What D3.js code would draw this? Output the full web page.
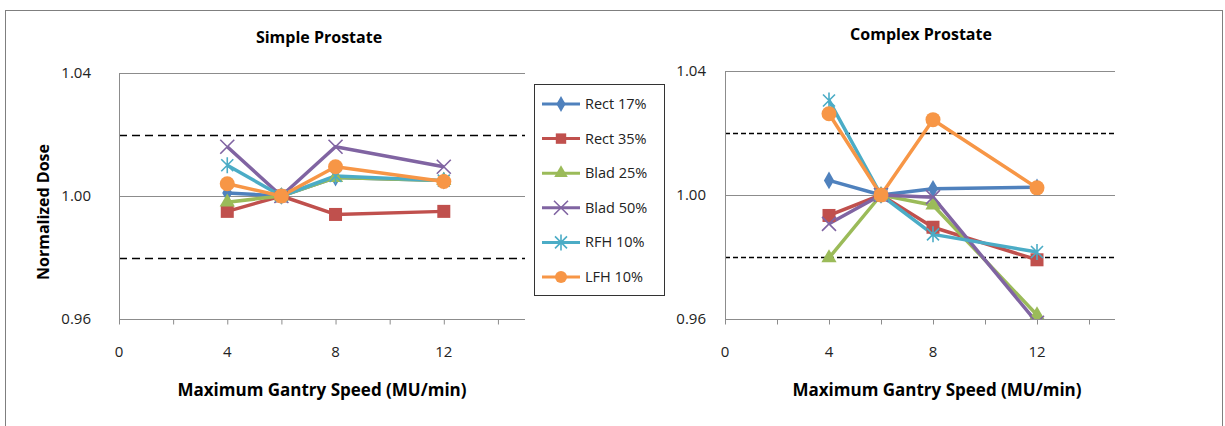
<!DOCTYPE html>
<html>
<head>
<meta charset="utf-8">
<script src="https://cdn.jsdelivr.net/npm/d3@7"></script>
<style>
  body { margin: 0; background: #fff; }
  svg { display: block; font-family: 'Open Sans', Lato, sans-serif; }
</style>
</head>
<body>
<svg id="chart"></svg>
<script>
var speeds = [4, 6, 8, 12];
var seriesNames = ['Rect 17%', 'Rect 35%', 'Blad 25%', 'Blad 50%', 'RFH 10%', 'LFH 10%'];
var colors = ['#4F81BD', '#C0504D', '#9BBB59', '#8064A2', '#4BACC6', '#F79646'];
var markers = ['diamond', 'square', 'triangle', 'cross', 'star', 'circle'];

// simple prostate
var simpleRect17 = [1.001, 1.000, 1.006, 1.005];
var simpleRect35 = [0.995, 1.000, 0.994, 0.995];
var simpleBlad25 = [0.998, 1.000, 1.006, 1.005];
var simpleBlad50 = [1.016, 1.000, 1.016, 1.0095];
var simpleRFH10 = [1.010, 1.000, 1.0065, 1.005];
var simpleLFH10 = [1.004, 1.000, 1.0095, 1.0047];

// complex prostate
var complexRect17 = [1.0047, 1.000, 1.002, 1.0025];
var complexRect35 = [0.9934, 1.000, 0.9896, 0.9791];
var complexBlad25 = [0.9797, 1.000, 0.9967, 0.9613];
var complexBlad50 = [0.9907, 1.000, 0.9993, 0.9588];
var complexRFH10 = [1.0305, 1.000, 0.9873, 0.9816];
var complexLFH10 = [1.0262, 1.000, 1.0243, 1.0023];

var yTicks = [0.96, 1.00, 1.04];
var xTicks = [0, 4, 8, 12];
var limitLines = [0.98, 1.02];

var svgWidth = 1225, svgHeight = 426;
var svg = d3.select('#chart').attr('width', svgWidth).attr('height', svgHeight);

svg.append('rect')
  .attr('x', 5.5).attr('y', 10.5)
  .attr('width', 1217).attr('height', 430)
  .attr('fill', 'none').attr('stroke', '#7f7f7f').attr('stroke-width', 1);

function drawPanel(opts) {
  var xScale = d3.scaleLinear().domain([0, 15]).range([opts.left, opts.right]);
  var yScale = d3.scaleLinear().domain([0.96, 1.04]).range([opts.bottom, opts.top]);
  var g = svg.append('g');

  // gridlines
  g.selectAll('.grid')
    .data([1.00, 1.04])
    .enter().append('line')
    .attr('x1', opts.left).attr('x2', opts.right)
    .attr('y1', (d) => Math.round(yScale(d)) + 0.5)
    .attr('y2', (d) => Math.round(yScale(d)) + 0.5)
    .attr('stroke', '#8c8c8c').attr('stroke-width', 1);

  // limit lines
  g.selectAll('.limit')
    .data(limitLines)
    .enter().append('line')
    .attr('x1', opts.left).attr('x2', opts.right)
    .attr('y1', (d) => Math.round(yScale(d)) + 0.5)
    .attr('y2', (d) => Math.round(yScale(d)) + 0.5)
    .attr('stroke', '#000').attr('stroke-width', 1.5)
    .attr('stroke-dasharray', opts.dash);

  // axes
  var xAxis = d3.axisBottom(xScale).tickValues(d3.range(0, 16, 2)).tickSize(5).tickFormat('');
  var xg = g.append('g')
    .attr('transform', 'translate(0,' + (Math.round(yScale(0.96)) + 0.5) + ')')
    .call(xAxis);
  xg.select('.domain').attr('stroke', '#8c8c8c').attr('d', 'M' + opts.left + ',0H' + opts.right);
  xg.selectAll('.tick line').attr('stroke', '#8c8c8c');

  g.append('line')
    .attr('x1', opts.left + 0.5).attr('x2', opts.left + 0.5)
    .attr('y1', opts.top).attr('y2', opts.bottom)
    .attr('stroke', '#8c8c8c');

  g.selectAll('.xlab')
    .data(xTicks)
    .enter().append('text')
    .attr('x', (d) => xScale(d))
    .attr('y', opts.bottom + 38)
    .attr('text-anchor', 'middle')
    .attr('font-size', 15)
    .attr('fill', '#222')
    .text((d) => d);

  g.selectAll('.ylab')
    .data(yTicks)
    .enter().append('text')
    .attr('x', opts.left - opts.yLabGap)
    .attr('y', (d) => yScale(d) + 5)
    .attr('text-anchor', 'end')
    .attr('font-size', 15)
    .attr('fill', '#222')
    .text((d) => d.toFixed(2));

  g.append('text')
    .attr('x', opts.titleX).attr('y', opts.titleY)
    .attr('text-anchor', 'middle')
    .attr('font-size', 16).attr('font-weight', 'bold')
    .text(opts.title);

  g.append('text')
    .attr('x', opts.xTitleX).attr('y', 396)
    .attr('text-anchor', 'middle')
    .attr('font-size', 17).attr('font-weight', 'bold')
    .text('Maximum Gantry Speed (MU/min)');

  // series
  var clipId = 'clip' + opts.id;
  svg.append('clipPath').attr('id', clipId)
    .append('rect')
    .attr('x', opts.left).attr('y', opts.top - 12)
    .attr('width', opts.right - opts.left).attr('height', opts.bottom - opts.top + 12);

  var line = d3.line()
    .x((d, i) => xScale(speeds[i]))
    .y((d) => yScale(d));

  var plot = g.append('g').attr('clip-path', 'url(#' + clipId + ')');
  opts.series.forEach(function(vals, s) {
    plot.append('path')
      .datum(vals)
      .attr('d', line)
      .attr('fill', 'none')
      .attr('stroke', colors[s])
      .attr('stroke-width', 3.5)
      .attr('stroke-linejoin', 'round');
  });
  opts.series.forEach(function(vals, s) {
    plot.selectAll('.m' + s)
      .data(vals)
      .enter().append('g')
      .attr('transform', (d, i) => 'translate(' + xScale(speeds[i]) + ',' + yScale(d) + ')')
      .each(function() { drawMarker(d3.select(this), s, 1); });
  });
}

function drawMarker(sel, s, k) {
  var c = colors[s];
  var type = markers[s];
  if (type === 'diamond') {
    sel.append('path').attr('d', d3.symbol(d3.symbolDiamond, 90 * k)).attr('fill', c);
  } else if (type === 'square') {
    sel.append('rect').attr('x', -6.5 * k).attr('y', -6.5 * k).attr('width', 13 * k).attr('height', 13 * k).attr('fill', c);
  } else if (type === 'triangle') {
    sel.append('path').attr('d', d3.symbol(d3.symbolTriangle, 100 * k)).attr('fill', c);
  } else if (type === 'cross') {
    sel.append('path').attr('d', 'M-7,-7L7,7M-7,7L7,-7').attr('stroke', c).attr('stroke-width', 1.6).attr('fill', 'none');
  } else if (type === 'star') {
    sel.append('path').attr('d', 'M-6,-6L6,6M-6,6L6,-6M0,-8L0,8').attr('stroke', c).attr('stroke-width', 1.6).attr('fill', 'none');
  } else {
    sel.append('circle').attr('r', 7.5 * k).attr('fill', c);
  }
}

drawPanel({
  id: 'L', left: 119, right: 525, top: 73, bottom: 319,
  titleX: 319, titleY: 43, xTitleX: 322, yLabGap: 28,
  title: 'Simple Prostate', dash: '8,5',
  series: [simpleRect17, simpleRect35, simpleBlad25, simpleBlad50, simpleRFH10, simpleLFH10]
});

drawPanel({
  id: 'R', left: 725, right: 1115, top: 71, bottom: 319,
  titleX: 921, titleY: 40, xTitleX: 937, yLabGap: 19,
  title: 'Complex Prostate', dash: '5,3',
  series: [complexRect17, complexRect35, complexBlad25, complexBlad50, complexRFH10, complexLFH10]
});

// y axis title
svg.append('text')
  .attr('transform', 'translate(49,212) rotate(-90)')
  .attr('text-anchor', 'middle')
  .attr('font-size', 16).attr('font-weight', 'bold')
  .text('Normalized Dose');

// legend
var legend = svg.append('g');
legend.append('rect')
  .attr('x', 534.5).attr('y', 84.5).attr('width', 130).attr('height', 211)
  .attr('fill', '#fff').attr('stroke', '#333');

var legendY = d3.scalePoint().domain(seriesNames).range([104, 277]);
seriesNames.forEach(function(name, s) {
  var y = legendY(name);
  var item = legend.append('g').attr('transform', 'translate(0,' + y + ')');
  item.append('line').attr('x1', 542).attr('x2', 580).attr('y1', 0).attr('y2', 0)
    .attr('stroke', colors[s]).attr('stroke-width', 3);
  drawMarker(item.append('g').attr('transform', 'translate(561,0)'), s, 0.8);
  item.append('text').attr('x', 585).attr('y', 5)
    .attr('font-size', 14.5).attr('fill', '#222').text(name);
});
</script>
</body>
</html>
